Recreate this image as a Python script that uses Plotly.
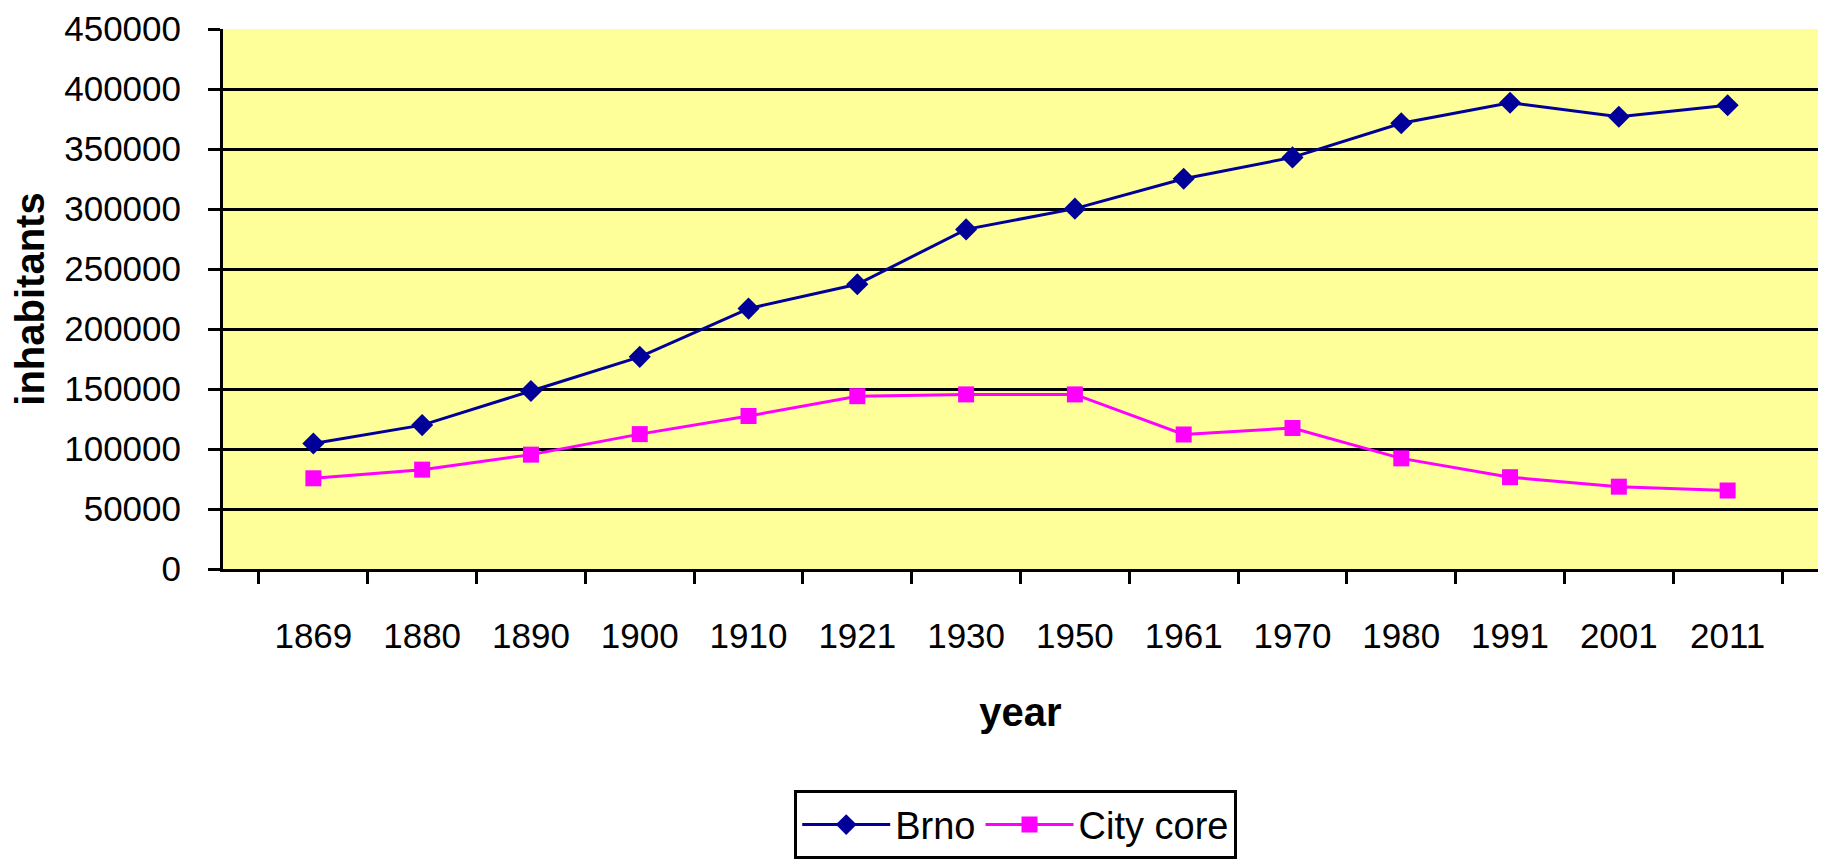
import plotly.graph_objects as go

years = ["1869", "1880", "1890", "1900", "1910", "1921", "1930",
         "1950", "1961", "1970", "1980", "1991", "2001", "2011"]
brno = [104600, 119900, 148300, 176800, 217000, 237300, 283000,
        300300, 325200, 343000, 371500, 388500, 376900, 386500]
city_core = [75600, 82800, 95300, 112400, 127500, 144000, 145500,
             145500, 112100, 117500, 92200, 76500, 68600, 65400]
y_ticks = [0, 50000, 100000, 150000, 200000, 250000, 300000, 350000, 400000, 450000]

FONT = "Liberation Sans, Arial, sans-serif"

fig = go.Figure()
fig.add_trace(go.Scatter(
    x=years, y=brno, name="Brno", mode="lines+markers",
    line=dict(color="#000099", width=3),
    marker=dict(symbol="diamond", size=17, color="#000099"),
))
fig.add_trace(go.Scatter(
    x=years, y=city_core, name="City core", mode="lines+markers",
    line=dict(color="#FF00FF", width=3),
    marker=dict(symbol="square", size=16, color="#FF00FF"),
))

fig.update_layout(
    width=1829, height=867,
    margin=dict(l=215, r=19, t=21, b=306, autoexpand=False),
    paper_bgcolor="white",
    plot_bgcolor="#FFFF99",
    font=dict(family=FONT, size=35, color="black"),
    showlegend=True,
    legend=dict(
        orientation="h", x=0.497, xanchor="center", y=-0.41, yanchor="top",
        bordercolor="black", borderwidth=3, bgcolor="white",
        font=dict(family=FONT, size=38, color="black"),
        itemwidth=88,
    ),
    xaxis=dict(
        type="category", tickson="boundaries", automargin=False,
        showline=True, linecolor="black", linewidth=3,
        ticks="outside", ticklen=12, tickwidth=3, tickcolor="black",
        showgrid=False, ticklabelstandoff=34,
        tickfont=dict(family=FONT, size=35),
        title=dict(text="<b>year</b>", font=dict(family=FONT, size=40), standoff=44),
    ),
    yaxis=dict(
        range=[0, 450000], tickvals=y_ticks, tickformat="d", automargin=False,
        showline=True, linecolor="black", linewidth=3,
        ticks="outside", ticklen=12, tickwidth=3, tickcolor="black",
        showgrid=True, gridcolor="black", gridwidth=3, zeroline=False,
        ticklabelstandoff=20,
        tickfont=dict(family=FONT, size=35),
        title=dict(text="<b>inhabitants</b>", font=dict(family=FONT, size=40), standoff=15),
    ),
)

fig.write_html("out.html")
